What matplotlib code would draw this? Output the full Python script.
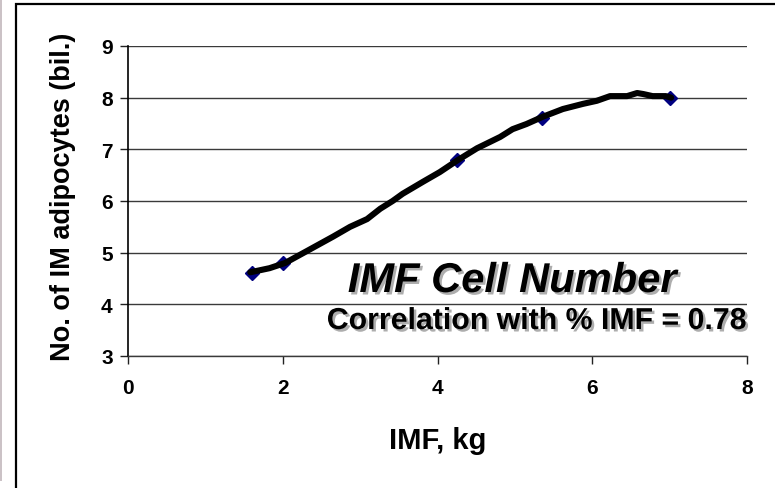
import matplotlib
matplotlib.use("Agg")
import matplotlib.pyplot as plt
import matplotlib.patheffects as pe
from matplotlib.patches import Rectangle

plt.rcParams["font.family"] = ["Liberation Sans", "DejaVu Sans"]
plt.rcParams["font.weight"] = "bold"

# measured samples
imf_kg = [1.6, 2.0, 4.25, 5.35, 7.0]
cells_bil = [4.6, 4.8, 6.8, 7.6, 8.0]

# smoothed trend line as drawn in the chart
trend_x = [1.58, 1.83, 2.03, 2.31, 2.65, 2.87, 3.09, 3.26, 3.42, 3.55, 3.81, 4.03,
           4.25, 4.51, 4.81, 4.97, 5.15, 5.36, 5.62, 5.88, 6.06, 6.23, 6.45, 6.58,
           6.66, 6.78, 6.95, 7.02]
trend_y = [4.62, 4.70, 4.80, 5.03, 5.31, 5.50, 5.65, 5.85, 6.00, 6.14, 6.37, 6.56,
           6.78, 7.02, 7.24, 7.39, 7.49, 7.63, 7.78, 7.88, 7.94, 8.03, 8.03, 8.09,
           8.07, 8.03, 8.03, 8.00]

x_ticks = [0, 2, 4, 6, 8]
y_ticks = [3, 4, 5, 6, 7, 8, 9]

W, H = 775, 489
fig = plt.figure(figsize=(W / 100, H / 100), dpi=100)
ax = fig.add_axes([128 / W, 1 - 357 / H, (747 - 128) / W, (357 - 47) / H])

ax.set_xlim(0, 8)
ax.set_ylim(3, 9)
ax.set_xticks(x_ticks)
ax.set_yticks(y_ticks)
ax.yaxis.grid(True, color="#3a3a3a", linewidth=1.0)
ax.set_axisbelow(True)
for s in ("top", "right"):
    ax.spines[s].set_visible(False)
ax.spines["left"].set_color("black")
ax.spines["left"].set_linewidth(1.2)
ax.spines["bottom"].set_color("#3a3a3a")
ax.spines["bottom"].set_linewidth(1.0)
ax.tick_params(axis="both", direction="out", length=6, width=1.0, color="#222222",
               labelsize=15)
ax.tick_params(axis="y", pad=5)
ax.tick_params(axis="x", pad=10)
for lab in ax.get_xticklabels() + ax.get_yticklabels():
    lab.set_fontweight("bold")

ax.plot(imf_kg, cells_bil, linestyle="none", marker="D", markersize=7,
        color="#000080", zorder=3)
ax.plot(trend_x, trend_y, color="black", linewidth=4.4, solid_capstyle="round",
        solid_joinstyle="round", zorder=4)

shadow = [pe.withSimplePatchShadow(offset=(1.8, -1.8), shadow_rgbFace="#777777", alpha=0.6)]
fig.text(512 / W, 1 - 293 / H, "IMF Cell Number", fontsize=30, fontweight="bold",
         fontstyle="italic", ha="center", va="baseline", path_effects=shadow)
fig.text(536 / W, 1 - 330 / H, "Correlation with % IMF = 0.78", fontsize=21.8,
         fontweight="bold", ha="center", va="baseline", path_effects=shadow)

fig.text(63 / W, 1 - 197 / H, "No. of IM adipocytes (bil.)", fontsize=19.5,
         fontweight="bold", rotation=90, ha="center", va="center")
fig.text(438 / W, 1 - 441 / H, "IMF, kg", fontsize=21, fontweight="bold",
         ha="center", va="center")

# outer frame and left page strip
fig.patches.append(Rectangle((16 / W, -0.5), 2.0, 1.5 - 5 / H, transform=fig.transFigure,
                             fill=False, edgecolor="black", linewidth=1.6))
fig.patches.append(Rectangle((0, 7 / H), 2 / W, 1, transform=fig.transFigure,
                             facecolor="#cbc2c6", edgecolor="none"))

fig.savefig("out.png", dpi=100)
